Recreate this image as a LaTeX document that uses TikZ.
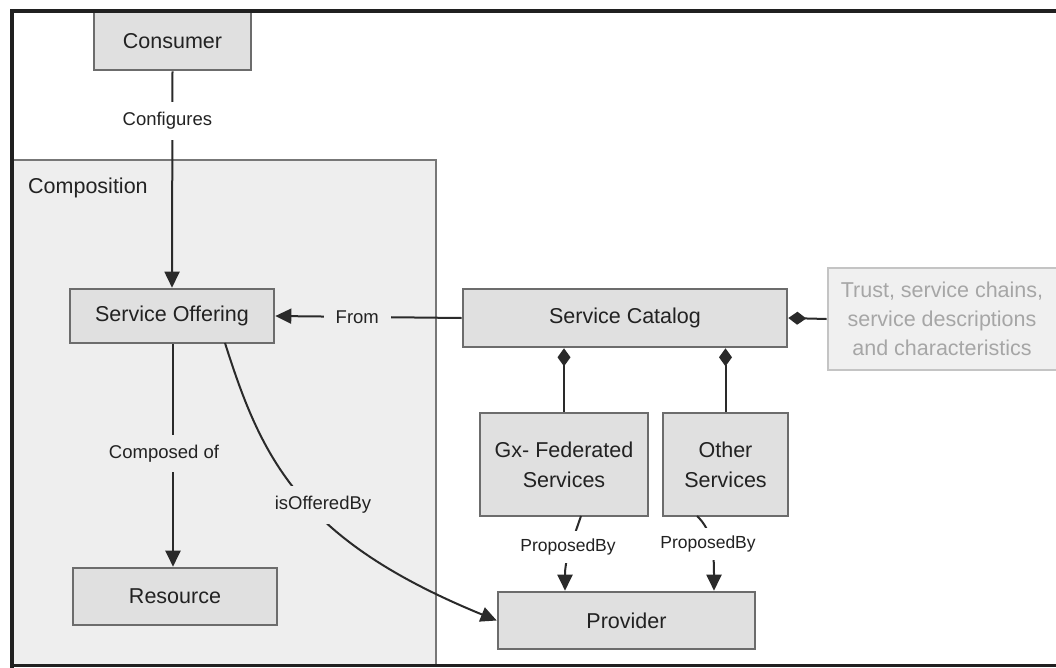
\documentclass[tikz,border=0pt]{standalone}
\usepackage{fontspec}
\setmainfont{Liberation Sans}
\usetikzlibrary{arrows.meta}
\definecolor{boxfill}{HTML}{E0E0E0}
\definecolor{boxline}{HTML}{6C6C6C}
\definecolor{compfill}{HTML}{EEEEEE}
\definecolor{compline}{HTML}{777777}
\definecolor{ink}{HTML}{222222}
\definecolor{wire}{HTML}{2A2A2A}
\definecolor{faintfill}{HTML}{F0F0F0}
\definecolor{faintline}{HTML}{C4C4C4}
\definecolor{faintink}{HTML}{A6A6A6}
\definecolor{framecol}{HTML}{202020}
\begin{document}
\begin{tikzpicture}[x=1pt,y=-1pt,
  box/.style={draw=boxline, fill=boxfill, line width=2.6pt, text=ink,
    font=\fontsize{21.5}{30}\selectfont, align=center, inner sep=0pt},
  conn/.style={draw=wire, line width=2pt},
  lab/.style={text=ink, font=\fontsize{18.5}{22}\selectfont, inner xsep=6pt, inner ysep=10pt},
  smalllab/.style={lab, font=\fontsize{17.5}{21}\selectfont, inner ysep=8pt, inner xsep=3pt},
  tip/.style={-{Triangle[length=16pt,width=15pt]}},
  owns/.style={{Diamond[length=18pt,width=13pt]}-}]
\useasboundingbox (0,0) rectangle (1056,667);
\fill[white] (0,0) rectangle (1056,667);

% composition container
\node[draw=compline, fill=compfill, line width=2.6pt, minimum width=424pt, minimum height=505pt, inner sep=0pt]
  (comp) at (224,412.5) {};
\node[anchor=west, text=ink, font=\fontsize{21.5}{26}\selectfont, inner sep=0pt] (comptitle) at (28,188) {Composition};

% boxes
\node[box, minimum width=157pt, minimum height=58pt] (consumer) at (172.5,41) {Consumer};
\node[box, minimum width=204pt, minimum height=54pt] (offering) at (172,316) {Service Offering};
\node[box, minimum width=204pt, minimum height=57pt] (resource) at (175,596.5) {Resource};
\node[box, minimum width=324pt, minimum height=58pt] (catalog) at (625,318) {Service Catalog};
\node[box, minimum width=168pt, minimum height=103pt] (gx) at (564,464.5) {Gx- Federated\\Services};
\node[box, minimum width=125pt, minimum height=103pt] (other) at (725.5,464.5) {Other\\Services};
\node[box, minimum width=257pt, minimum height=57pt] (provider) at (626.5,620.5) {Provider};
\node[draw=faintline, fill=faintfill, line width=2.6pt, minimum width=240pt, minimum height=102pt, inner sep=0pt]
  (trust) at (948,319) {};
\node[text=faintink, font=\fontsize{21.5}{29}\selectfont, align=center, inner sep=0pt]
  (trusttext) at (942,319) {Trust, service chains,\\service descriptions\\and characteristics};

% connectors
\draw[conn, tip] (consumer.south) -- node[lab, fill=white, pos=0.23, xshift=-5pt] (lconf) {Configures} (offering.north);
\draw[conn, tip] (offering.south -| 173,0) -- node[lab, fill=compfill, pos=0.49, xshift=-9pt] (lcomp) {Composed of} (resource.north -| 173,0);
\draw[conn, tip] (catalog.west) -- node[lab, fill=compfill, pos=0.56, inner xsep=12pt] (lfrom) {From} (offering.east);
\coordinate (offstart) at (225,343);
\coordinate (provin) at (provider.west);
\draw[conn, tip] (offstart) .. controls (262,460) and (300,540) .. (provin);
\node[lab, fill=compfill, inner xsep=3pt] (loffer) at (323,505) {isOfferedBy};

\draw[conn, owns] (catalog.south -| gx.north) -- (gx.north);
\draw[conn, owns] (catalog.south -| other.north) -- (other.north);
\draw[conn, owns] (catalog.east) -- (trust.west);

\coordinate (gxout) at (581,516);
\coordinate (otherout) at (697,516);
\draw[conn, tip] (gxout) .. controls (570,548) and (565,560) .. (provider.north -| 565,0);
\node[smalllab, fill=white] (lprop1) at (568,547) {ProposedBy};
\draw[conn, tip] (otherout) .. controls (712,530) and (714,550) .. (provider.north -| 714,0);
\node[smalllab, fill=white] (lprop2) at (708,544) {ProposedBy};

% outer frame
\draw[framecol, line width=3.5pt] (12,670) -- (12,11) -- (1060,11);
\draw[framecol, line width=3.5pt] (10,665.5) -- (1060,665.5);
\end{tikzpicture}
\end{document}
